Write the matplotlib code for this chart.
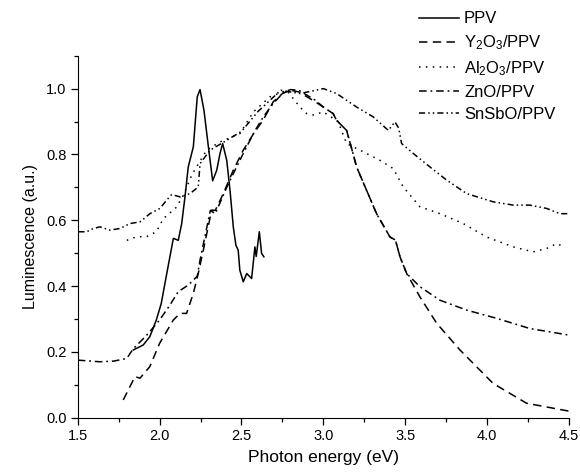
import matplotlib
matplotlib.use("Agg")
import matplotlib.pyplot as plt
from matplotlib.ticker import MultipleLocator

plt.rcParams['font.family'] = ['Liberation Sans', 'DejaVu Sans']
plt.rcParams['mathtext.fontset'] = 'custom'
plt.rcParams['mathtext.rm'] = 'Liberation Sans'
plt.rcParams['mathtext.it'] = 'Liberation Sans'

# PPV (solid)
ppv_x = [1.84, 1.90, 1.94, 1.98, 2.01, 2.04, 2.084, 2.114, 2.135, 2.155, 2.175, 2.206,
         2.23, 2.247, 2.271, 2.298, 2.324, 2.349, 2.369, 2.385, 2.41, 2.43, 2.45,
         2.466, 2.48, 2.49, 2.511, 2.532, 2.562, 2.582, 2.59, 2.609, 2.623, 2.637]
ppv_y = [0.206, 0.221, 0.246, 0.297, 0.347, 0.428, 0.545, 0.539, 0.59, 0.671, 0.762, 0.823,
         0.975, 0.997, 0.934, 0.823, 0.72, 0.752, 0.803, 0.833, 0.782, 0.691, 0.58,
         0.524, 0.509, 0.448, 0.413, 0.438, 0.423, 0.519, 0.49, 0.565, 0.499, 0.489]

# Y2O3/PPV (dashed)
y2o3_x = [1.778, 1.85, 1.88, 1.94, 2.0, 2.084, 2.125, 2.165, 2.206, 2.236, 2.267, 2.318,
          2.34, 2.389, 2.45, 2.511, 2.57, 2.633, 2.694, 2.75, 2.8, 2.85, 2.9, 2.95, 3.0,
          3.06, 3.08, 3.142, 3.17, 3.203, 3.264, 3.325, 3.407, 3.44, 3.468, 3.509, 3.59,
          3.692, 3.834, 4.037, 4.241, 4.5]
y2o3_y = [0.054, 0.125, 0.12, 0.155, 0.226, 0.297, 0.317, 0.317, 0.378, 0.438, 0.509, 0.631,
          0.63, 0.681, 0.752, 0.813, 0.86, 0.905, 0.96, 0.985, 0.995, 0.99, 0.975, 0.96, 0.944,
          0.924, 0.904, 0.873, 0.823, 0.762, 0.691, 0.62, 0.549, 0.54, 0.489, 0.438, 0.367,
          0.287, 0.206, 0.104, 0.044, 0.02]

# Al2O3/PPV (dotted)
al2o3_x = [1.80, 1.86, 1.92, 1.98, 2.023, 2.104, 2.145, 2.196, 2.287, 2.369, 2.49, 2.572,
           2.674, 2.776, 2.857, 2.898, 2.94, 3.0, 3.09, 3.142, 3.224, 3.346, 3.427, 3.488,
           3.59, 3.712, 3.854, 3.997, 4.16, 4.281, 4.363, 4.424, 4.475]
al2o3_y = [0.539, 0.55, 0.55, 0.565, 0.605, 0.64, 0.676, 0.737, 0.813, 0.838, 0.863, 0.929,
           0.975, 0.995, 0.944, 0.924, 0.92, 0.929, 0.90, 0.833, 0.813, 0.782, 0.757, 0.701,
           0.641, 0.62, 0.59, 0.549, 0.519, 0.504, 0.514, 0.529, 0.519]

# ZnO/PPV (dash-dot)
zno_x = [1.5, 1.636, 1.72, 1.799, 1.84, 1.92, 2.0, 2.06, 2.114, 2.175, 2.23, 2.247, 2.31,
         2.34, 2.41, 2.47, 2.521, 2.58, 2.633, 2.694, 2.76, 2.8, 2.85, 2.9, 2.95, 3.0, 3.06,
         3.08, 3.142, 3.17, 3.203, 3.264, 3.325, 3.407, 3.44, 3.468, 3.509, 3.59, 3.712,
         3.875, 4.058, 4.261, 4.5]
zno_y = [0.175, 0.17, 0.172, 0.18, 0.21, 0.25, 0.297, 0.34, 0.383, 0.403, 0.43, 0.479, 0.63,
         0.62, 0.70, 0.762, 0.813, 0.87, 0.914, 0.955, 0.99, 0.997, 0.995, 0.98, 0.965, 0.944,
         0.924, 0.904, 0.873, 0.823, 0.762, 0.691, 0.62, 0.549, 0.54, 0.489, 0.438, 0.398,
         0.357, 0.327, 0.302, 0.271, 0.251]

# SnSbO/PPV (dash-dot-dot)
snsbo_x = [1.504, 1.555, 1.595, 1.636, 1.697, 1.758, 1.819, 1.88, 1.941, 2.002, 2.043, 2.074,
           2.125, 2.186, 2.236, 2.247, 2.308, 2.4, 2.5, 2.6, 2.74, 2.857, 3.0, 3.081, 3.203,
           3.305, 3.397, 3.437, 3.46, 3.478, 3.549, 3.651, 3.753, 3.875, 4.037, 4.16, 4.26,
           4.363, 4.444, 4.5]
snsbo_y = [0.565, 0.565, 0.575, 0.58, 0.57, 0.575, 0.59, 0.595, 0.62, 0.636, 0.661, 0.678,
           0.671, 0.681, 0.701, 0.772, 0.813, 0.84, 0.87, 0.93, 0.995, 0.985, 1.0, 0.985, 0.944,
           0.914, 0.873, 0.899, 0.88, 0.833, 0.803, 0.762, 0.722, 0.681, 0.656, 0.646, 0.646,
           0.636, 0.62, 0.62]

fig = plt.figure(figsize=(5.8, 4.72), dpi=100)
ax = fig.add_axes([0.134, 0.115, 0.847, 0.767])

lw = 1.1
ax.plot(ppv_x, ppv_y, color='black', linestyle='-', linewidth=lw, label='PPV')
ax.plot(y2o3_x, y2o3_y, color='black', linestyle=(0, (5.5, 3.5)), linewidth=lw,
        label='Y$_2$O$_3$/PPV')
ax.plot(al2o3_x, al2o3_y, color='black', linestyle=(0, (1, 3.5)), linewidth=lw,
        label='Al$_2$O$_3$/PPV')
ax.plot(zno_x, zno_y, color='black', linestyle=(0, (5, 2.5, 1.2, 2.5)), linewidth=lw,
        label='ZnO/PPV')
ax.plot(snsbo_x, snsbo_y, color='black', linestyle=(0, (4, 2, 1, 2, 1, 2)), linewidth=lw,
        label='SnSbO/PPV')

ax.set_xlim(1.5, 4.5)
ax.set_ylim(0, 1.1)
ax.xaxis.set_major_locator(MultipleLocator(0.5))
ax.xaxis.set_minor_locator(MultipleLocator(0.25))
ax.yaxis.set_major_locator(MultipleLocator(0.2))
ax.yaxis.set_minor_locator(MultipleLocator(0.1))
ax.tick_params(which='major', direction='out', length=5, width=0.9, labelsize=10.5, pad=3)
ax.tick_params(which='minor', direction='out', length=3, width=0.9)
for s in ['top', 'right']:
    ax.spines[s].set_visible(False)

ax.set_xlabel('Photon energy (eV)', fontsize=12.5, labelpad=5)
ax.set_ylabel('Luminescence (a.u.)', fontsize=11.5, labelpad=6)

fig.legend(loc='upper left', bbox_to_anchor=(0.711, 0.99), frameon=False, fontsize=12,
           handlelength=2.4, handletextpad=0.3, labelspacing=0.42, borderaxespad=0)

fig.savefig('out.png', dpi=100)
